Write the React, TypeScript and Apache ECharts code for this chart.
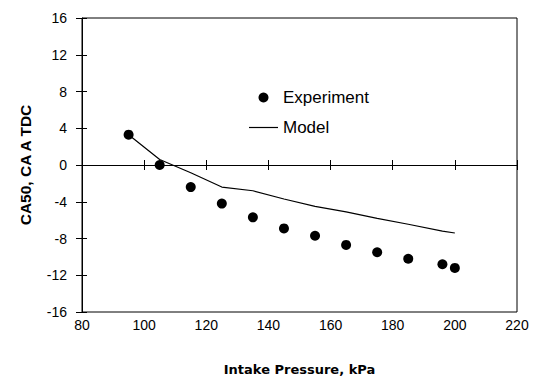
import React, { useEffect, useRef } from "react";
import * as echarts from "echarts";

const pressure = [95, 105, 115, 125, 135, 145, 155, 165, 175, 185, 196, 200];
const experiment = [3.3, 0.0, -2.4, -4.2, -5.7, -6.9, -7.7, -8.7, -9.5, -10.2, -10.8, -11.2];
const modelPressure = [95, 105, 115, 125, 135, 145, 155, 165, 175, 185, 196, 200];
const model = [3.3, 0.6, -0.85, -2.4, -2.8, -3.7, -4.5, -5.1, -5.8, -6.45, -7.2, -7.4];

const xName = "Intake Pressure, kPa";
const yName = "CA50, CA A TDC";
const seriesNames = ["Experiment", "Model"];

export default function App() {
  const ref = useRef<HTMLDivElement>(null);
  useEffect(() => {
    if (!ref.current) return;
    const chart = echarts.init(ref.current, null, { renderer: "svg" });
    const font = "Liberation Sans, Arial, sans-serif";
    const titleFont = "DejaVu Sans, sans-serif";
    const baseX = {
      type: "value" as const,
      min: 80,
      max: 220,
      interval: 20,
      gridIndex: 0,
      position: "bottom" as const,
      splitLine: { show: false },
    };
    const baseY = {
      type: "value" as const,
      min: -16,
      max: 16,
      interval: 4,
      gridIndex: 0,
      position: "left" as const,
      splitLine: { show: false },
    };
    chart.setOption({
      animation: false,
      backgroundColor: "#ffffff",
      grid: {
        left: 82,
        top: 18,
        right: 17,
        bottom: 68,
        show: true,
        borderColor: "#000",
        borderWidth: 1,
        backgroundColor: "transparent",
      },
      legend: {
        orient: "vertical",
        left: 249,
        top: 89,
        padding: 0,
        itemWidth: 29,
        itemHeight: 10,
        itemGap: 13,
        textStyle: { fontFamily: font, fontSize: 17, color: "#000" },
        data: [
          { name: seriesNames[0], icon: "circle" },
          { name: seriesNames[1], icon: "path://M0,0 L29,0 L29,1.2 L0,1.2 Z" },
        ],
      },
      xAxis: [
        {
          ...baseX,
          name: xName,
          nameLocation: "middle",
          nameGap: 51,
          nameTextStyle: { fontFamily: titleFont, fontWeight: "bold", fontSize: 13, color: "#000" },
          axisLine: { show: true, lineStyle: { color: "#000", width: 1 } },
          axisTick: { show: true, inside: false, length: 5, lineStyle: { color: "#000" } },
          axisLabel: { fontFamily: font, fontSize: 14, color: "#000", margin: 6 },
        },
        {
          ...baseX,
          axisLine: { show: false },
          axisTick: { show: true, inside: true, length: 5, lineStyle: { color: "#000" } },
          axisLabel: { show: false },
        },
      ],
      yAxis: [
        {
          ...baseY,
          name: yName,
          nameLocation: "middle",
          nameGap: 49,
          nameRotate: 90,
          nameTextStyle: { fontFamily: font, fontWeight: "bold", fontSize: 15.5, color: "#000" },
          axisLine: { show: true, lineStyle: { color: "#000", width: 1 } },
          axisTick: { show: true, inside: false, length: 6, lineStyle: { color: "#000" } },
          axisLabel: { fontFamily: font, fontSize: 14, color: "#000", margin: 15 },
        },
        {
          ...baseY,
          axisLine: { show: false },
          axisTick: { show: true, inside: true, length: 5, lineStyle: { color: "#000" } },
          axisLabel: { show: false },
        },
      ],
      series: [
        {
          name: seriesNames[0],
          type: "scatter",
          xAxisIndex: 0,
          yAxisIndex: 0,
          symbol: "circle",
          symbolSize: 10,
          itemStyle: { color: "#000", opacity: 1 },
          data: pressure.map((p, i) => [p, experiment[i]]),
          z: 3,
        },
        {
          name: seriesNames[1],
          type: "line",
          xAxisIndex: 0,
          yAxisIndex: 0,
          symbol: "none",
          showSymbol: false,
          lineStyle: { color: "#000", width: 1.2 },
          itemStyle: { color: "#000" },
          data: modelPressure.map((p, i) => [p, model[i]]),
          z: 2,
        },
      ],
    });
    return () => chart.dispose();
  }, []);
  return <div ref={ref} style={{ width: 534, height: 381, position: "absolute", left: 0, top: 0 }} />;
}
